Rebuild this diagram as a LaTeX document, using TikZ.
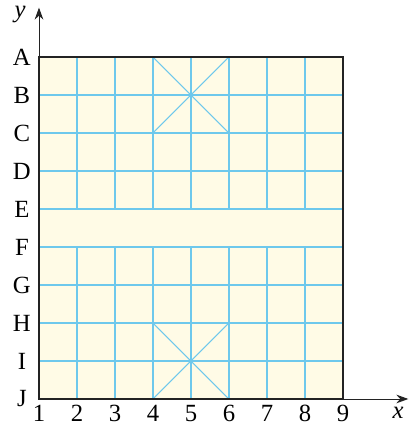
\documentclass[tikz,border=0pt]{standalone}
\usepackage{fontspec}
\setmainfont{Liberation Serif}
\usepackage{xcolor}
\usepackage{tikz}
\usetikzlibrary{arrows.meta}

\definecolor{boardfill}{RGB}{255,251,230}
\definecolor{gridblue}{RGB}{110,200,236}
\definecolor{framegray}{RGB}{35,35,35}

\begin{document}
\begin{tikzpicture}[
    x=1cm, y=1cm,
    font=\fontsize{18.5}{20}\selectfont,
    gridline/.style={gridblue, line width=0.8pt},
    frame/.style={framegray, line width=1.5pt},
    axis/.style={-{Stealth[length=9pt,width=6.5pt]}, line width=0.7pt, framegray},
    tag/.style={inner sep=1pt}
]
    \useasboundingbox (-1.026,-0.895) rectangle (9.789,10.5);

    % Board
    \fill[boardfill] (0,0) rectangle (8,9);

    % Grid lines
    \foreach \r in {1,2,3,4,5,6,7,8}
        \draw[gridline] (0,\r) -- (8,\r);
    \foreach \c in {1,...,7} {
        \draw[gridline] (\c,9) -- (\c,5);
        \draw[gridline] (\c,4) -- (\c,0);
    }

    % Palaces
    \draw[gridline] (3,9) -- (5,7);
    \draw[gridline] (5,9) -- (3,7);
    \draw[gridline] (3,2) -- (5,0);
    \draw[gridline] (5,2) -- (3,0);

    % Frame
    \draw[frame] (0,0) rectangle (8,9);

    % Axes
    \coordinate (o) at (0,0);
    \coordinate (xend) at (9.72,0);
    \coordinate (yend) at (0,10.3);
    \draw[axis] (o) -- (xend);
    \draw[axis] (o) -- (yend);
    \node[tag] (xlab) at (9.45,-0.36) {\itshape x};
    \node[tag] (ylab) at (-0.5,10.12) {\itshape y};

    % Row letters
    \foreach \l [count=\i from 0] in {J,I,H,G,F,E,D,C,B,A}
        \node[tag] (row\l) at (-0.45,\i) {\l};

    % Column numbers
    \foreach \n in {1,...,9}
        \node[tag] (col\n) at (\n-1,-0.38) {\n};

\end{tikzpicture}
\end{document}
